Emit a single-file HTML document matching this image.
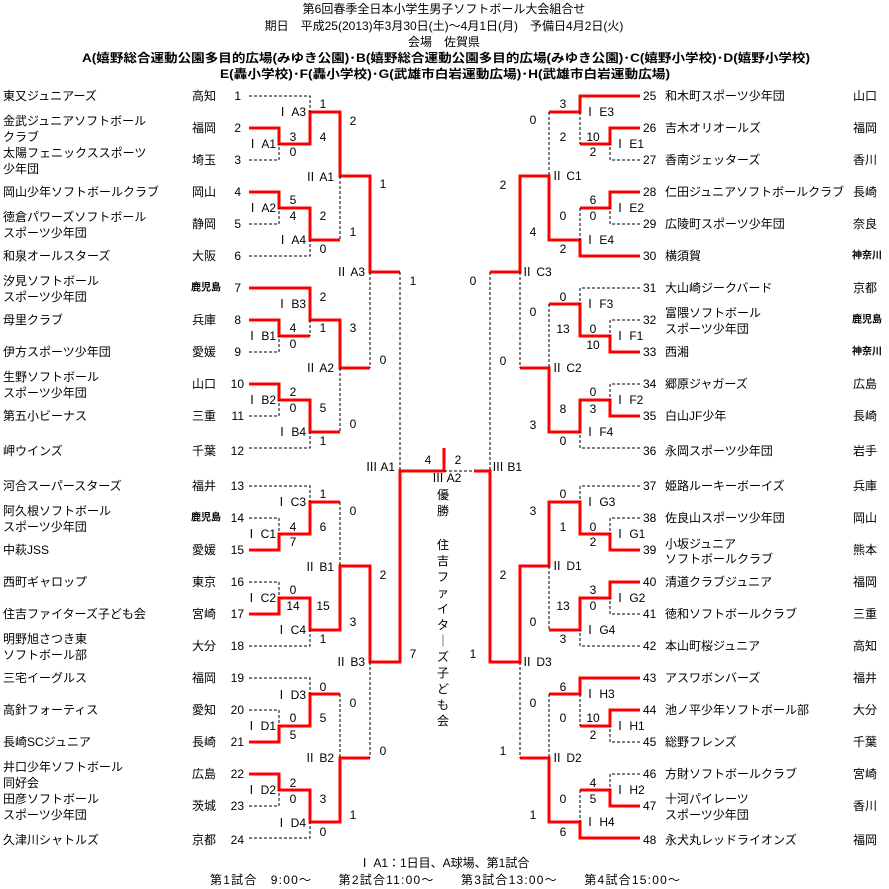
<!DOCTYPE html>
<html><head><meta charset="utf-8"><style>
html,body{margin:0;padding:0;background:#fff;}
svg{display:block;font-family:"Liberation Sans","Noto Sans CJK JP",sans-serif;font-size:12px;}
.r{fill:none;stroke:#f00;stroke-width:3;}
.d{fill:none;stroke:#000;stroke-width:1;stroke-dasharray:3,2;}
text{dominant-baseline:central;fill:#000;}
.e{text-anchor:end}.m{text-anchor:middle}
.s{font-size:10px;font-weight:bold}
.b{font-weight:600}
</style></head><body>
<svg width="889" height="889" viewBox="0 0 889 889" xmlns="http://www.w3.org/2000/svg">
<!-- header -->
<text x="444" y="9" class="m">第6回春季全日本小学生男子ソフトボール大会組合せ</text>
<text x="444" y="26" class="m">期日　平成25(2013)年3月30日(土)～4月1日(月)　予備日4月2日(火)</text>
<text x="444" y="42" class="m">会場　佐賀県</text>
<text x="82" y="58" class="b" textLength="728" lengthAdjust="spacingAndGlyphs">A(嬉野総合運動公園多目的広場(みゆき公園)･B(嬉野総合運動公園多目的広場(みゆき公園)･C(嬉野小学校)･D(嬉野小学校)</text>
<text x="220" y="74" class="b" textLength="450" lengthAdjust="spacingAndGlyphs">E(轟小学校)･F(轟小学校)･G(武雄市白岩運動広場)･H(武雄市白岩運動広場)</text>

<!-- left red -->
<path class="r" d="M249 128H279V144H310V112H340V176H370V272H400"/>
<path class="r" d="M249 192H279V208H310V240H340"/>
<path class="r" d="M249 288H310V320H340V368H370"/>
<path class="r" d="M249 320H279V336H310"/>
<path class="r" d="M249 384H279V400H310V432H340"/>
<path class="r" d="M249 550H279V534H310V502H340"/>
<path class="r" d="M249 614H279V598H310V630H340V566H370V662H400V471H444V448"/>
<path class="r" d="M249 742H279V726H310V694H340"/>
<path class="r" d="M249 774H279V790H310V822H340V758H370"/>
<!-- left dashed -->
<path class="d" d="M249 96H310V112M249 160H279V144M249 224H279V208M249 256H310V240M340 176V240M370 272V368M400 272V471M249 352H279V336M310 320V336M249 416H279V400M249 448H310V432M340 368V432M249 486H310V502M249 518H279V534M340 502V566M249 582H279V598M249 646H310V630M370 662V758M249 678H310V694M249 710H279V726M340 694V758M249 806H279V790M249 838H310V822M444 471H474"/>

<!-- right red -->
<path class="r" d="M640 96H580V112H549"/>
<path class="r" d="M640 128H610V144H580"/>
<path class="r" d="M640 192H610V208H580"/>
<path class="r" d="M640 256H580V240H549V176H520V272H490"/>
<path class="r" d="M640 352H610V336H580V304H549"/>
<path class="r" d="M640 416H610V400H580V432H549V368H520"/>
<path class="r" d="M640 550H610V534H580V502H549V566H520V662H490V471H474"/>
<path class="r" d="M640 582H610V598H580V630H549"/>
<path class="r" d="M640 678H580V694H549"/>
<path class="r" d="M640 710H610V726H580"/>
<path class="r" d="M640 806H610V790H580"/>
<path class="r" d="M640 838H580V822H549V758H520"/>
<!-- right dashed -->
<path class="d" d="M640 160H610V144M580 112V144M549 112V176M640 224H610V208M580 208V240M520 272V368M490 272V471M640 288H580V304M640 320H610V336M549 304V368M640 384H610V400M640 448H580V432M640 486H580V502M640 518H610V534M549 566V630M640 614H610V598M640 646H580V630M520 662V758M580 694V726M640 742H610V726M549 694V758M640 774H610V790M580 790V822"/>

<!-- left names -->
<g>
<text x="3" y="96">東又ジュニアーズ</text>
<text x="3" y="121">金武ジュニアソフトボール</text><text x="3" y="137">クラブ</text>
<text x="3" y="153">太陽フェニックススポーツ</text><text x="3" y="169">少年団</text>
<text x="3" y="192">岡山少年ソフトボールクラブ</text>
<text x="3" y="217">徳倉パワーズソフトボール</text><text x="3" y="233">スポーツ少年団</text>
<text x="3" y="256">和泉オールスターズ</text>
<text x="3" y="281">汐見ソフトボール</text><text x="3" y="297">スポーツ少年団</text>
<text x="3" y="320">母里クラブ</text>
<text x="3" y="352">伊方スポーツ少年団</text>
<text x="3" y="377">生野ソフトボール</text><text x="3" y="393">スポーツ少年団</text>
<text x="3" y="416">第五小ビーナス</text>
<text x="3" y="451">岬ウインズ</text>
<text x="3" y="486">河合スーパースターズ</text>
<text x="3" y="511">阿久根ソフトボール</text><text x="3" y="527">スポーツ少年団</text>
<text x="3" y="550">中萩JSS</text>
<text x="3" y="582">西町ギャロップ</text>
<text x="3" y="614">住吉ファイターズ子ども会</text>
<text x="3" y="639">明野旭さつき東</text><text x="3" y="655">ソフトボール部</text>
<text x="3" y="678">三宅イーグルス</text>
<text x="3" y="710">高針フォーティス</text>
<text x="3" y="742">長崎SCジュニア</text>
<text x="3" y="767">井口少年ソフトボール</text><text x="3" y="783">同好会</text>
<text x="3" y="799">田彦ソフトボール</text><text x="3" y="815">スポーツ少年団</text>
<text x="3" y="840">久津川シャトルズ</text>
</g>
<!-- left prefs -->
<g>
<text x="192" y="96">高知</text><text x="192" y="128">福岡</text><text x="192" y="160">埼玉</text>
<text x="192" y="192">岡山</text><text x="192" y="224">静岡</text><text x="192" y="256">大阪</text>
<text x="191" y="288" class="s">鹿児島</text><text x="192" y="320">兵庫</text><text x="192" y="352">愛媛</text>
<text x="192" y="384">山口</text><text x="192" y="416">三重</text><text x="192" y="451">千葉</text>
<text x="192" y="486">福井</text><text x="191" y="518" class="s">鹿児島</text><text x="192" y="550">愛媛</text>
<text x="192" y="582">東京</text><text x="192" y="614">宮崎</text><text x="192" y="646">大分</text>
<text x="192" y="678">福岡</text><text x="192" y="710">愛知</text><text x="192" y="742">長崎</text>
<text x="192" y="774">広島</text><text x="192" y="806">茨城</text><text x="192" y="840">京都</text>
</g>
<g class="e">
<text x="241" y="96" class="e">1</text><text x="241" y="128" class="e">2</text><text x="241" y="160" class="e">3</text>
<text x="241" y="192" class="e">4</text><text x="241" y="224" class="e">5</text><text x="241" y="256" class="e">6</text>
<text x="241" y="288" class="e">7</text><text x="241" y="320" class="e">8</text><text x="241" y="352" class="e">9</text>
<text x="244" y="384" class="e">10</text><text x="244" y="416" class="e">11</text><text x="244" y="451" class="e">12</text>
<text x="244" y="486" class="e">13</text><text x="244" y="518" class="e">14</text><text x="244" y="550" class="e">15</text>
<text x="244" y="582" class="e">16</text><text x="244" y="614" class="e">17</text><text x="244" y="646" class="e">18</text>
<text x="244" y="678" class="e">19</text><text x="244" y="710" class="e">20</text><text x="244" y="742" class="e">21</text>
<text x="244" y="774" class="e">22</text><text x="244" y="806" class="e">23</text><text x="244" y="840" class="e">24</text>
</g>

<!-- right numbers/names/prefs -->
<g>
<text x="643" y="96">25</text><text x="665" y="96">和木町スポーツ少年団</text><text x="853" y="96">山口</text>
<text x="643" y="128">26</text><text x="665" y="128">吉木オリオールズ</text><text x="853" y="128">福岡</text>
<text x="643" y="160">27</text><text x="665" y="160">香南ジェッターズ</text><text x="853" y="160">香川</text>
<text x="643" y="192">28</text><text x="665" y="192">仁田ジュニアソフトボールクラブ</text><text x="853" y="192">長崎</text>
<text x="643" y="224">29</text><text x="665" y="224">広陵町スポーツ少年団</text><text x="853" y="224">奈良</text>
<text x="643" y="256">30</text><text x="665" y="256">横須賀</text><text x="852" y="256" class="s">神奈川</text>
<text x="643" y="288">31</text><text x="665" y="288">大山崎ジークバード</text><text x="853" y="288">京都</text>
<text x="643" y="320">32</text><text x="665" y="313">富隈ソフトボール</text><text x="665" y="329">スポーツ少年団</text><text x="852" y="320" class="s">鹿児島</text>
<text x="643" y="352">33</text><text x="665" y="352">西湘</text><text x="852" y="352" class="s">神奈川</text>
<text x="643" y="384">34</text><text x="665" y="384">郷原ジャガーズ</text><text x="853" y="384">広島</text>
<text x="643" y="416">35</text><text x="665" y="416">白山JF少年</text><text x="853" y="416">長崎</text>
<text x="643" y="451">36</text><text x="665" y="451">永岡スポーツ少年団</text><text x="853" y="451">岩手</text>
<text x="643" y="486">37</text><text x="665" y="486">姫路ルーキーボーイズ</text><text x="853" y="486">兵庫</text>
<text x="643" y="518">38</text><text x="665" y="518">佐良山スポーツ少年団</text><text x="853" y="518">岡山</text>
<text x="643" y="550">39</text><text x="665" y="544">小坂ジュニア</text><text x="665" y="559">ソフトボールクラブ</text><text x="853" y="550">熊本</text>
<text x="643" y="582">40</text><text x="665" y="582">清道クラブジュニア</text><text x="853" y="582">福岡</text>
<text x="643" y="614">41</text><text x="665" y="614">徳和ソフトボールクラブ</text><text x="853" y="614">三重</text>
<text x="643" y="646">42</text><text x="665" y="646">本山町桜ジュニア</text><text x="853" y="646">高知</text>
<text x="643" y="678">43</text><text x="665" y="678">アスワボンバーズ</text><text x="853" y="678">福井</text>
<text x="643" y="710">44</text><text x="665" y="710">池ノ平少年ソフトボール部</text><text x="853" y="710">大分</text>
<text x="643" y="742">45</text><text x="665" y="742">総野フレンズ</text><text x="853" y="742">千葉</text>
<text x="643" y="774">46</text><text x="665" y="774">方財ソフトボールクラブ</text><text x="853" y="774">宮崎</text>
<text x="643" y="806">47</text><text x="665" y="799">十河パイレーツ</text><text x="665" y="815">スポーツ少年団</text><text x="853" y="806">香川</text>
<text x="643" y="840">48</text><text x="665" y="840">永犬丸レッドライオンズ</text><text x="853" y="840">福岡</text>
</g>

<!-- left match labels -->
<g class="e">
<text x="306" y="112" class="e">Ⅰ A3</text><text x="276" y="144" class="e">Ⅰ A1</text>
<text x="334" y="177" class="e">Ⅱ A1</text><text x="276" y="208" class="e">Ⅰ A2</text>
<text x="306" y="240" class="e">Ⅰ A4</text><text x="365" y="272" class="e">Ⅱ A3</text>
<text x="306" y="304" class="e">Ⅰ B3</text><text x="276" y="336" class="e">Ⅰ B1</text>
<text x="334" y="368" class="e">Ⅱ A2</text><text x="276" y="400" class="e">Ⅰ B2</text>
<text x="306" y="432" class="e">Ⅰ B4</text><text x="395" y="467" class="e">Ⅲ A1</text>
<text x="306" y="502" class="e">Ⅰ C3</text><text x="276" y="534" class="e">Ⅰ C1</text>
<text x="334" y="567" class="e">Ⅱ B1</text><text x="276" y="598" class="e">Ⅰ C2</text>
<text x="306" y="630" class="e">Ⅰ C4</text><text x="365" y="662" class="e">Ⅱ B3</text>
<text x="306" y="695" class="e">Ⅰ D3</text><text x="276" y="726" class="e">Ⅰ D1</text>
<text x="334" y="758" class="e">Ⅱ B2</text><text x="276" y="790" class="e">Ⅰ D2</text>
<text x="306" y="823" class="e">Ⅰ D4</text>
</g>
<!-- left scores -->
<g class="m">
<text x="323" y="104" class="m">1</text><text x="293" y="137" class="m">3</text><text x="293" y="152" class="m">0</text><text x="323" y="137" class="m">4</text>
<text x="353" y="121" class="m">2</text><text x="383" y="184" class="m">1</text>
<text x="293" y="200" class="m">5</text><text x="293" y="216" class="m">4</text><text x="323" y="216" class="m">2</text><text x="353" y="232" class="m">1</text><text x="323" y="249" class="m">0</text>
<text x="413" y="281" class="m">1</text>
<text x="323" y="297" class="m">2</text><text x="353" y="328" class="m">3</text><text x="293" y="328" class="m">4</text><text x="323" y="328" class="m">1</text><text x="293" y="344" class="m">0</text><text x="383" y="360" class="m">0</text>
<text x="293" y="392" class="m">2</text><text x="293" y="408" class="m">0</text><text x="323" y="408" class="m">5</text><text x="353" y="424" class="m">0</text><text x="323" y="441" class="m">1</text>
<text x="428" y="460" class="m">4</text><text x="458" y="460" class="m">2</text>
<text x="323" y="494" class="m">1</text><text x="353" y="511" class="m">0</text><text x="293" y="527" class="m">4</text><text x="323" y="527" class="m">6</text><text x="293" y="542" class="m">7</text>
<text x="383" y="575" class="m">2</text><text x="293" y="590" class="m">0</text><text x="293" y="606" class="m">14</text><text x="323" y="606" class="m">15</text><text x="353" y="622" class="m">3</text><text x="323" y="639" class="m">1</text>
<text x="413" y="654" class="m">7</text>
<text x="323" y="687" class="m">0</text><text x="353" y="703" class="m">0</text><text x="293" y="718" class="m">0</text><text x="323" y="718" class="m">5</text><text x="293" y="735" class="m">5</text>
<text x="383" y="751" class="m">0</text><text x="293" y="783" class="m">2</text><text x="293" y="799" class="m">0</text><text x="323" y="799" class="m">3</text><text x="353" y="815" class="m">1</text><text x="323" y="832" class="m">0</text>
</g>

<!-- right labels -->
<g>
<text x="584" y="112">Ⅰ E3</text><text x="614" y="144">Ⅰ E1</text><text x="551" y="176">Ⅱ C1</text>
<text x="614" y="208">Ⅰ E2</text><text x="584" y="240">Ⅰ E4</text><text x="521" y="272">Ⅱ C3</text>
<text x="584" y="304">Ⅰ F3</text><text x="614" y="336">Ⅰ F1</text><text x="551" y="368">Ⅱ C2</text>
<text x="614" y="400">Ⅰ F2</text><text x="584" y="432">Ⅰ F4</text><text x="492" y="467">Ⅲ B1</text>
<text x="584" y="502">Ⅰ G3</text><text x="614" y="534">Ⅰ G1</text><text x="551" y="566">Ⅱ D1</text>
<text x="614" y="598">Ⅰ G2</text><text x="584" y="630">Ⅰ G4</text><text x="521" y="662">Ⅱ D3</text>
<text x="584" y="694">Ⅰ H3</text><text x="614" y="726">Ⅰ H1</text><text x="551" y="758">Ⅱ D2</text>
<text x="614" y="790">Ⅰ H2</text><text x="584" y="822">Ⅰ H4</text>
<text x="432" y="478">Ⅲ A2</text>
</g>
<g>
<text x="563" y="104" class="m">3</text><text x="533" y="120" class="m">0</text><text x="563" y="137" class="m">2</text><text x="593" y="137" class="m">10</text><text x="593" y="152" class="m">2</text>
<text x="503" y="185" class="m">2</text><text x="593" y="200" class="m">6</text><text x="563" y="216" class="m">0</text><text x="593" y="216" class="m">0</text><text x="533" y="232" class="m">4</text><text x="563" y="249" class="m">2</text>
<text x="473" y="281" class="m">0</text>
<text x="563" y="297" class="m">0</text><text x="533" y="312" class="m">0</text><text x="563" y="329" class="m">13</text><text x="593" y="329" class="m">0</text><text x="593" y="345" class="m">10</text>
<text x="503" y="361" class="m">0</text><text x="593" y="392" class="m">0</text><text x="563" y="409" class="m">8</text><text x="593" y="409" class="m">3</text><text x="533" y="425" class="m">3</text><text x="563" y="441" class="m">0</text>
<text x="563" y="494" class="m">0</text><text x="533" y="511" class="m">3</text><text x="563" y="527" class="m">1</text><text x="593" y="527" class="m">0</text><text x="593" y="542" class="m">2</text>
<text x="503" y="575" class="m">2</text><text x="593" y="590" class="m">3</text><text x="563" y="606" class="m">13</text><text x="593" y="606" class="m">0</text><text x="533" y="622" class="m">0</text><text x="563" y="639" class="m">3</text>
<text x="473" y="654" class="m">1</text>
<text x="563" y="687" class="m">6</text><text x="533" y="703" class="m">0</text><text x="563" y="718" class="m">0</text><text x="593" y="718" class="m">10</text><text x="593" y="735" class="m">2</text>
<text x="503" y="751" class="m">1</text><text x="593" y="783" class="m">4</text><text x="563" y="799" class="m">0</text><text x="593" y="799" class="m">5</text><text x="533" y="815" class="m">1</text><text x="563" y="832" class="m">6</text>
</g>

<!-- champion -->
<g class="m">
<text x="443" y="495" class="m">優</text><text x="443" y="511" class="m">勝</text>
<text x="443" y="545" class="m">住</text><text x="443" y="561" class="m">吉</text><text x="443" y="577" class="m">フ</text><text x="443" y="593" class="m">ァ</text>
<text x="443" y="609" class="m">イ</text><text x="443" y="625" class="m">タ</text><text x="443" y="641" class="m">｜</text><text x="443" y="657" class="m">ズ</text>
<text x="443" y="673" class="m">子</text><text x="443" y="689" class="m">ど</text><text x="443" y="705" class="m">も</text><text x="443" y="721" class="m">会</text>
</g>

<!-- footer -->
<text x="444" y="863" class="m">Ⅰ A1：1日目、A球場、第1試合</text>
<text x="210" y="880" textLength="470" lengthAdjust="spacing">第1試合　9:00～　　第2試合11:00～　　第3試合13:00～　　第4試合15:00～</text>
</svg>
</body></html>
